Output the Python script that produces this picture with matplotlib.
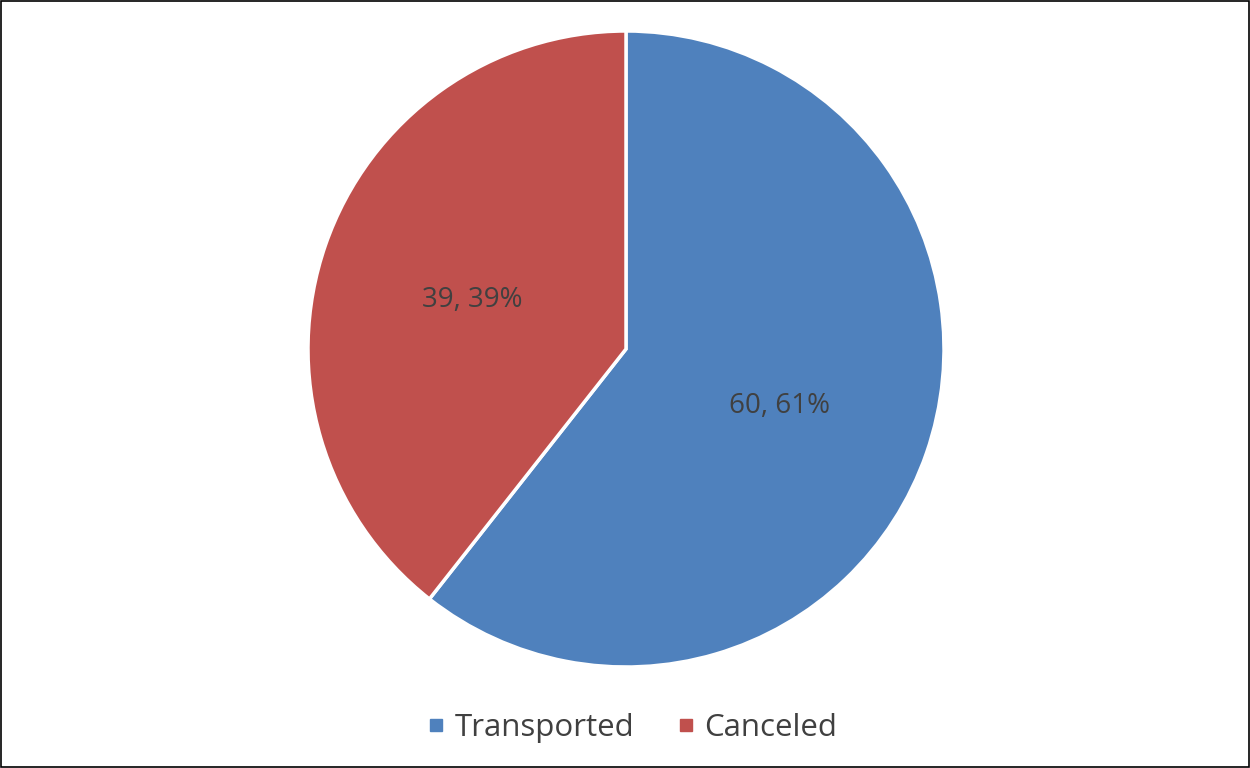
import matplotlib
matplotlib.use("Agg")
from matplotlib import pyplot as plt
from matplotlib.patches import Rectangle
from matplotlib.lines import Line2D

labels = ["Transported", "Canceled"]
counts = [60, 39]
colors = ["#4F81BD", "#C0504D"]

text_color = "#404040"
plt.rcParams['font.family'] = ['Open Sans', 'DejaVu Sans']

fig = plt.figure(figsize=(12.5, 7.68), dpi=100)

#   Pie axes placed so the circle sits where the reference has it
W, H = 1250, 768
cx, cy, r = 626, 768 - 349, 318
ax = fig.add_axes([(cx - r) / W, (cy - r) / H, 2 * r / W, 2 * r / H])

total = sum(counts)


def fmt(pct):
    val = int(round(pct * total / 100.0))
    return "{}, {:.0f}%".format(val, pct)


wedges, _, autotexts = ax.pie(counts, colors=colors, startangle=90, counterclock=False,
                              autopct=fmt, pctdistance=0.51, radius=1,
                              wedgeprops=dict(edgecolor="white", linewidth=2.5),
                              textprops=dict(color=text_color, fontsize=20))
#   nudge the labels down a little to match the reference
for t in autotexts:
    x, y = t.get_position()
    t.set_position((x, y - 0.014))

ax.set_xlim(-1, 1)
ax.set_ylim(-1, 1)
ax.set_aspect("equal")
ax.axis("off")

#   Legend with square markers at the bottom
handles = [Line2D([0], [0], marker="s", linestyle="", markersize=9, color=c) for c in colors]
fig.legend(handles, labels, loc="center", bbox_to_anchor=(0.505, 1 - 728 / H), ncol=2,
           frameon=False, fontsize=22.5, labelcolor=text_color, handletextpad=0.25,
           columnspacing=1.3, handlelength=0.7)

#   Thin black frame around the whole chart
fig.patches.append(Rectangle((0.0005, 0.001), 0.999, 0.998, transform=fig.transFigure,
                             fill=False, edgecolor="black", linewidth=1.2))

fig.savefig("out.png", dpi=100, facecolor="white")
